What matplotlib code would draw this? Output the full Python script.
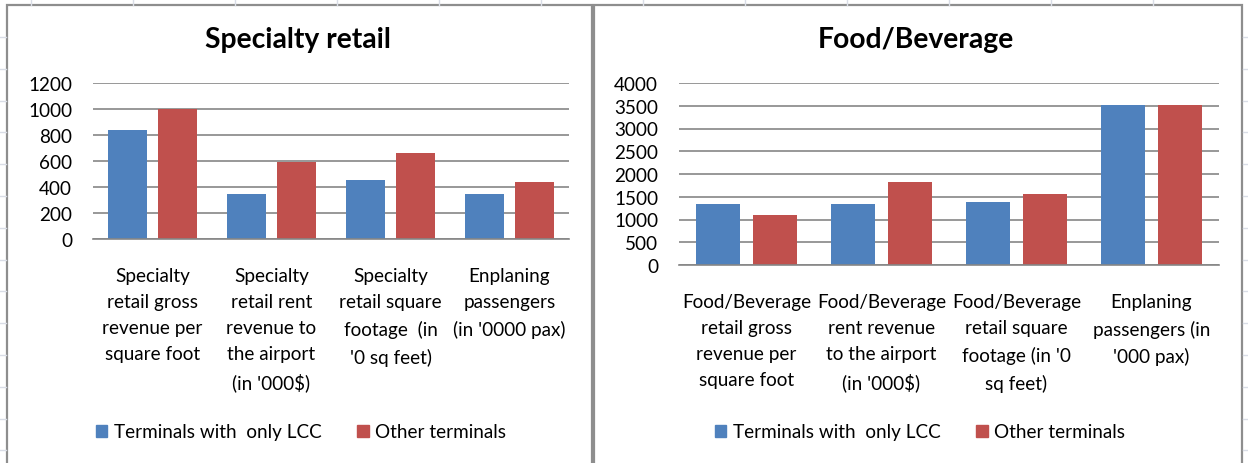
import numpy as np
import matplotlib
matplotlib.use('Agg')
import matplotlib.pyplot as plt
from matplotlib.patches import Patch, Rectangle
from matplotlib.lines import Line2D

plt.rcParams['font.family'] = ['Lato', 'DejaVu Sans']

# data
series_names = ['Terminals with  only LCC', 'Other terminals']
colors = ['#4F81BD', '#C0504D']

retail_labels = ["Specialty\nretail gross\nrevenue per\nsquare foot",
                 "Specialty\nretail rent\nrevenue to\nthe airport\n(in '000$)",
                 "Specialty\nretail square\nfootage  (in\n'0 sq feet)",
                 "Enplaning\npassengers\n(in '0000 pax)"]
retail_lcc = [835, 345, 455, 345]
retail_other = [1000, 595, 665, 435]

food_labels = ["Food/Beverage\nretail gross\nrevenue per\nsquare foot",
               "Food/Beverage\nrent revenue\nto the airport\n(in '000$)",
               "Food/Beverage\nretail square\nfootage (in '0\nsq feet)",
               "Enplaning\npassengers (in\n'000 pax)"]
food_lcc = [1350, 1350, 1385, 3515]
food_other = [1100, 1835, 1555, 3515]

W, H = 1248, 464
fig = plt.figure(figsize=(W / 100, H / 100), dpi=100)


def fx(px):
    return px / W


def fy(py):
    return 1 - py / H


# spreadsheet grid peeking out around the charts
grid_c = '#d9dde6'
for x in range(31, W, 102):
    fig.add_artist(Line2D([fx(x), fx(x)], [fy(0), fy(6)], color=grid_c, lw=1))
for k in range(14):
    y = 38 + 31.8 * k
    fig.add_artist(Line2D([fx(0), fx(6)], [fy(y), fy(y)], color=grid_c, lw=1))
    fig.add_artist(Line2D([fx(1243), fx(1248)], [fy(y), fy(y)], color=grid_c, lw=1))

# chart frames
for x0, x1 in [(7, 592), (594, 1242)]:
    fig.add_artist(Rectangle((fx(x0), fy(470)), fx(x1 - x0), fy(6) - fy(470),
                             fill=False, ec='#8e8e8e', lw=1.6,
                             transform=fig.transFigure))

FS = 13.6


def draw_chart(rect, title, title_x, labels, lcc, other, ymax, step, legend_x):
    ax = fig.add_axes(rect)
    x = np.arange(len(labels))
    w = 0.33
    ax.bar(x - 0.21, lcc, w, color=colors[0], zorder=2)
    ax.bar(x + 0.21, other, w, color=colors[1], zorder=2)
    ax.set_xlim(-0.5, len(labels) - 0.5)
    ax.set_ylim(0, ymax)
    ax.set_yticks(np.arange(0, ymax + 1, step))
    ax.yaxis.grid(True, color='#868686', lw=1.2)
    ax.set_axisbelow(True)
    for s in ['top', 'right', 'left']:
        ax.spines[s].set_visible(False)
    ax.spines['bottom'].set_color('#868686')
    ax.spines['bottom'].set_linewidth(1.2)
    ax.set_xticks(x)
    ax.set_xticklabels(labels, fontsize=FS, linespacing=1.65)
    ax.tick_params(axis='x', length=0, pad=20)
    ax.tick_params(axis='y', length=0, pad=15, labelsize=FS)
    fig.text(title_x, fy(40), title, ha='center', va='center',
             fontsize=20.3, fontweight='bold')
    handles = [Patch(color=c) for c in colors]
    fig.legend(handles, series_names, loc='center', ncol=2, frameon=False,
               bbox_to_anchor=(legend_x, fy(433)), fontsize=FS,
               handlelength=0.6, handleheight=0.6, handletextpad=0.35,
               columnspacing=1.9)
    return ax


draw_chart([fx(93), fy(240), fx(476), fy(84) - fy(240)], 'Specialty retail',
           fx(298), retail_labels, retail_lcc, retail_other, 1200, 200, fx(301))
draw_chart([fx(679), fy(266), fx(540), fy(84) - fy(266)], 'Food/Beverage',
           fx(916), food_labels, food_lcc, food_other, 4000, 500, fx(920))

fig.savefig('out.png', dpi=100)
